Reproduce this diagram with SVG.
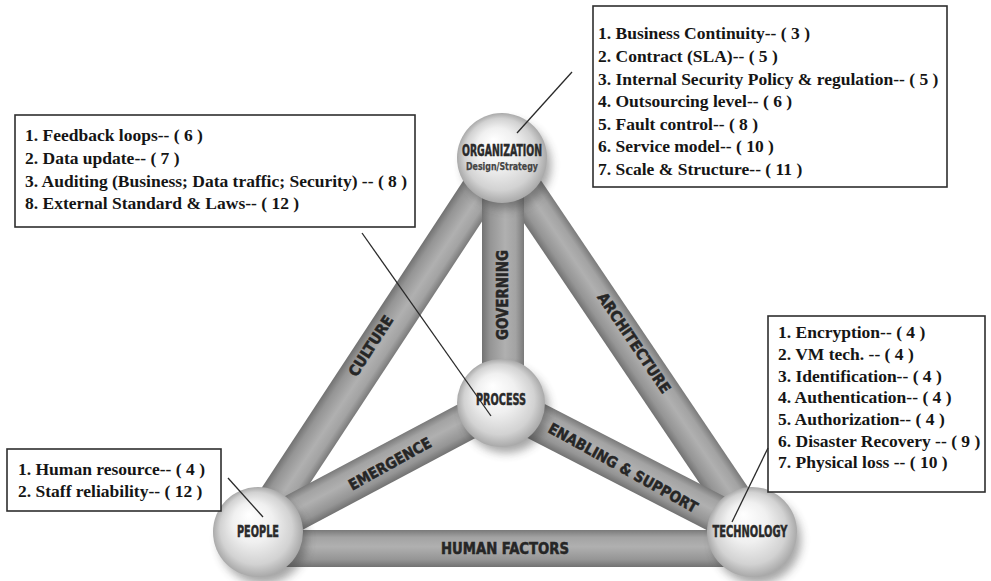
<svg xmlns="http://www.w3.org/2000/svg" width="991" height="581" viewBox="0 0 991 581">
<defs>
<linearGradient id="rod" x1="0" y1="0" x2="0" y2="1">
<stop offset="0" stop-color="#7a7a7a"/>
<stop offset="0.2" stop-color="#a3a3a3"/>
<stop offset="0.45" stop-color="#b0b0b0"/>
<stop offset="0.8" stop-color="#959595"/>
<stop offset="1" stop-color="#727272"/>
</linearGradient>
<radialGradient id="ball" cx="0.5" cy="0.5" r="0.5" fx="0.4" fy="0.3">
<stop offset="0" stop-color="#ffffff"/>
<stop offset="0.45" stop-color="#f0f0f0"/>
<stop offset="0.8" stop-color="#d2d2d2"/>
<stop offset="1" stop-color="#a9a9a9"/>
</radialGradient>
<filter id="blur" x="-50%" y="-50%" width="200%" height="200%">
<feGaussianBlur stdDeviation="5"/>
</filter>
</defs>
<style>
.box{fill:#ffffff;stroke:#2e2e2e;stroke-width:1.6}
.item{font-family:"Liberation Serif","Times New Roman",serif;font-weight:bold;font-size:17.5px;fill:#151515}
.bar{font-family:"DejaVu Sans Condensed","Liberation Sans Narrow","Liberation Sans",sans-serif;font-weight:bold;font-size:15px;fill:#262626;stroke:#262626;stroke-width:0.5;text-anchor:middle;dominant-baseline:central}
.lbl{font-family:"DejaVu Sans Condensed","Liberation Sans Narrow","Liberation Sans",sans-serif;font-weight:bold;font-size:15px;fill:#2a2a2a;stroke:#2a2a2a;stroke-width:0.45;text-anchor:middle;dominant-baseline:central}
.sub{font-size:10.5px;fill:#444;stroke:#444;stroke-width:0.25}
.lead{stroke:#2a2a2a;stroke-width:1.3;fill:none}
.shadow{fill:#3a3a3a;opacity:0.45;filter:url(#blur)}
.sphere{fill:url(#ball)}
</style>
<rect width="991" height="581" fill="#ffffff"/>

<g id="connectors">
<rect x="0" y="-19" width="447" height="38" fill="url(#rod)" transform="translate(501,158) rotate(123.3)"/>
<rect x="0" y="-19" width="450" height="38" fill="url(#rod)" transform="translate(503,158) rotate(56.0)"/>
<rect x="0" y="-21" width="245" height="42" fill="url(#rod)" transform="translate(503,158) rotate(90)"/>
<rect x="0" y="-19" width="275" height="38" fill="url(#rod)" transform="translate(258,532) rotate(-27.96)"/>
<rect x="0" y="-19" width="282" height="38" fill="url(#rod)" transform="translate(501,403) rotate(27.2)"/>
<rect x="258" y="530" width="494" height="37" fill="url(#rod)"/>
<text class="bar" x="0" y="0" textLength="69" lengthAdjust="spacingAndGlyphs" transform="translate(371,346) rotate(-57)">CULTURE</text>
<text class="bar" x="0" y="0" textLength="90" lengthAdjust="spacingAndGlyphs" transform="translate(503,295) rotate(-90)">GOVERNING</text>
<text class="bar" x="0" y="0" textLength="118" lengthAdjust="spacingAndGlyphs" transform="translate(634,343) rotate(56)">ARCHITECTURE</text>
<text class="bar" x="0" y="0" textLength="92" lengthAdjust="spacingAndGlyphs" transform="translate(390,464) rotate(-29)">EMERGENCE</text>
<text class="bar" x="0" y="0" textLength="168" lengthAdjust="spacingAndGlyphs" transform="translate(623,468) rotate(29)">ENABLING &amp; SUPPORT</text>
<text class="bar" x="505" y="549" textLength="128" lengthAdjust="spacingAndGlyphs">HUMAN FACTORS</text>
</g>

<g id="organization">
<circle class="shadow" cx="507" cy="165" r="44"/>
<circle class="sphere" cx="502" cy="158" r="45"/>
<text class="lbl" x="502" y="151" textLength="80" lengthAdjust="spacingAndGlyphs">ORGANIZATION</text>
<text class="lbl sub" x="502" y="166" textLength="72" lengthAdjust="spacingAndGlyphs">Design/Strategy</text>
</g>
<g id="process">
<circle class="shadow" cx="506" cy="410" r="43"/>
<circle class="sphere" cx="501" cy="403" r="44"/>
<text class="lbl" x="501" y="400" textLength="50" lengthAdjust="spacingAndGlyphs">PROCESS</text>
</g>
<g id="people">
<circle class="shadow" cx="263" cy="540" r="44"/>
<circle class="sphere" cx="258" cy="532" r="45"/>
<text class="lbl" x="258" y="532" textLength="42" lengthAdjust="spacingAndGlyphs">PEOPLE</text>
</g>
<g id="technology">
<circle class="shadow" cx="757" cy="540" r="44"/>
<circle class="sphere" cx="752" cy="532" r="45"/>
<text class="lbl" x="750" y="532" textLength="75" lengthAdjust="spacingAndGlyphs">TECHNOLOGY</text>
</g>

<g id="organization-factors">
<rect class="box" x="593" y="6" width="354" height="181"/>
<text class="item" x="598" y="39">1. Business Continuity-- ( 3 )</text>
<text class="item" x="598" y="62">2. Contract (SLA)-- ( 5 )</text>
<text class="item" x="598" y="85">3. Internal Security Policy &amp; regulation-- ( 5 )</text>
<text class="item" x="598" y="107">4. Outsourcing level-- ( 6 )</text>
<text class="item" x="598" y="130">5. Fault control-- ( 8 )</text>
<text class="item" x="598" y="152">6. Service model-- ( 10 )</text>
<text class="item" x="598" y="175">7. Scale &amp; Structure-- ( 11 )</text>
</g>
<g id="process-factors">
<rect class="box" x="15" y="115" width="400" height="112"/>
<text class="item" x="25" y="141">1. Feedback loops-- ( 6 )</text>
<text class="item" x="25" y="164">2. Data update-- ( 7 )</text>
<text class="item" x="25" y="187">3. Auditing (Business; Data traffic; Security) -- ( 8 )</text>
<text class="item" x="25" y="209">8. External Standard &amp; Laws--  ( 12 )</text>
</g>
<g id="technology-factors">
<rect class="box" x="768" y="316" width="217" height="176"/>
<text class="item" x="778" y="338">1. Encryption-- ( 4 )</text>
<text class="item" x="778" y="360">2. VM tech. -- ( 4 )</text>
<text class="item" x="778" y="382">3. Identification-- ( 4 )</text>
<text class="item" x="778" y="403">4. Authentication-- ( 4 )</text>
<text class="item" x="778" y="425">5. Authorization-- ( 4 )</text>
<text class="item" x="778" y="447">6. Disaster Recovery -- ( 9 )</text>
<text class="item" x="778" y="468">7. Physical loss -- ( 10 )</text>
</g>
<g id="people-factors">
<rect class="box" x="7" y="449" width="214" height="62"/>
<text class="item" x="18" y="475">1. Human resource-- ( 4 )</text>
<text class="item" x="18" y="497">2. Staff reliability-- ( 12 )</text>
</g>

<g id="leaders">
<line class="lead" x1="572" y1="72" x2="517" y2="133"/>
<line class="lead" x1="362" y1="233" x2="491" y2="416"/>
<line class="lead" x1="228" y1="478" x2="263" y2="517"/>
<line class="lead" x1="768" y1="448" x2="732" y2="522"/>
</g>
</svg>
